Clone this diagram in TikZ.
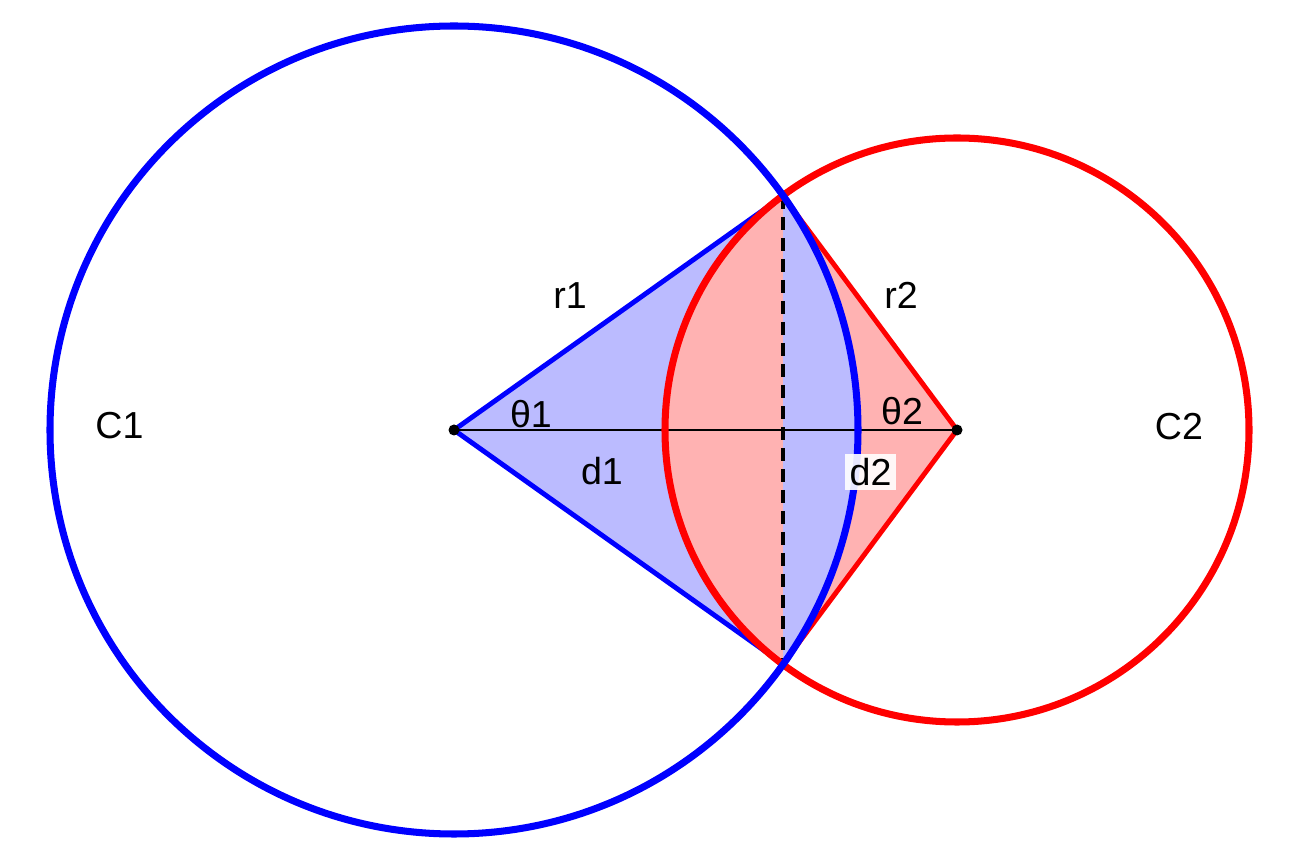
\documentclass[tikz,border=0pt]{standalone}
\usepackage{fontspec}
\setmainfont{Liberation Sans}
\usetikzlibrary{positioning}
\definecolor{lightblue}{RGB}{187,187,255}
\definecolor{lightred}{RGB}{255,178,178}
\tikzset{
	circle line/.style = {line width = 4pt},
	radius line/.style = {line width = 2.8pt},
	label text/.style = {inner sep = 0pt, font = \fontsize{21.4}{24}\selectfont}
}
\newcommand{\centredot}[1]{\fill (#1) circle [radius = 0.11];}

\begin{document}
\begin{tikzpicture}

					\useasboundingbox (-9.08,-8.64) rectangle (16.96,8.6);

					\coordinate (C1) at (0,0);
					\coordinate (C2) at (10.06,0);
					\coordinate (P) at (6.58,4.68);
					\coordinate (Q) at (6.58,-4.68);

					\fill[lightblue] (C1) -- (P) -- (Q) -- cycle;
					\fill[lightred] (C2) -- (P) -- (Q) -- cycle;
					\fill[lightred] (P) arc [start angle = 126.64, end angle = 233.36, radius = 5.84] -- cycle;
					\fill[lightblue] (Q) arc [start angle = -35.42, end angle = 35.42, radius = 8.08] -- cycle;

					\draw[line width = 1.1pt] (C1) -- (C2);
					\draw[line width = 2.2pt, dash pattern = on 0.26cm off 0.16cm] (P) -- (Q);

					\draw[radius line, blue] (P) -- (C1) -- (Q);
					\draw[radius line, red] (P) -- (C2) -- (Q);

					\draw[circle line, red] (C2) circle [radius = 5.84];
					\draw[circle line, blue] (C1) circle [radius = 8.08];

					\centredot{C1}
					\centredot{C2}

					\node[label text] (c1) at (-6.69,0.09) {C1};
					\node[label text] (c2) at (14.5,0.07) {C2};
					\node[label text] (r1) at (2.32,2.68) {r1};
					\node[label text] (r2) at (8.94,2.7) {r2};
					\node[label text] (t1) at (1.54,0.31) {θ1};
					\node[label text] (t2) at (8.96,0.37) {θ2};
					\node[label text] (d1) at (2.96,-0.83) {d1};
					\node[label text, fill = white, fill opacity = 0.9, text opacity = 1, inner sep = 0.09cm] (d2) at (8.33,-0.84) {d2};

\end{tikzpicture}
\end{document}
